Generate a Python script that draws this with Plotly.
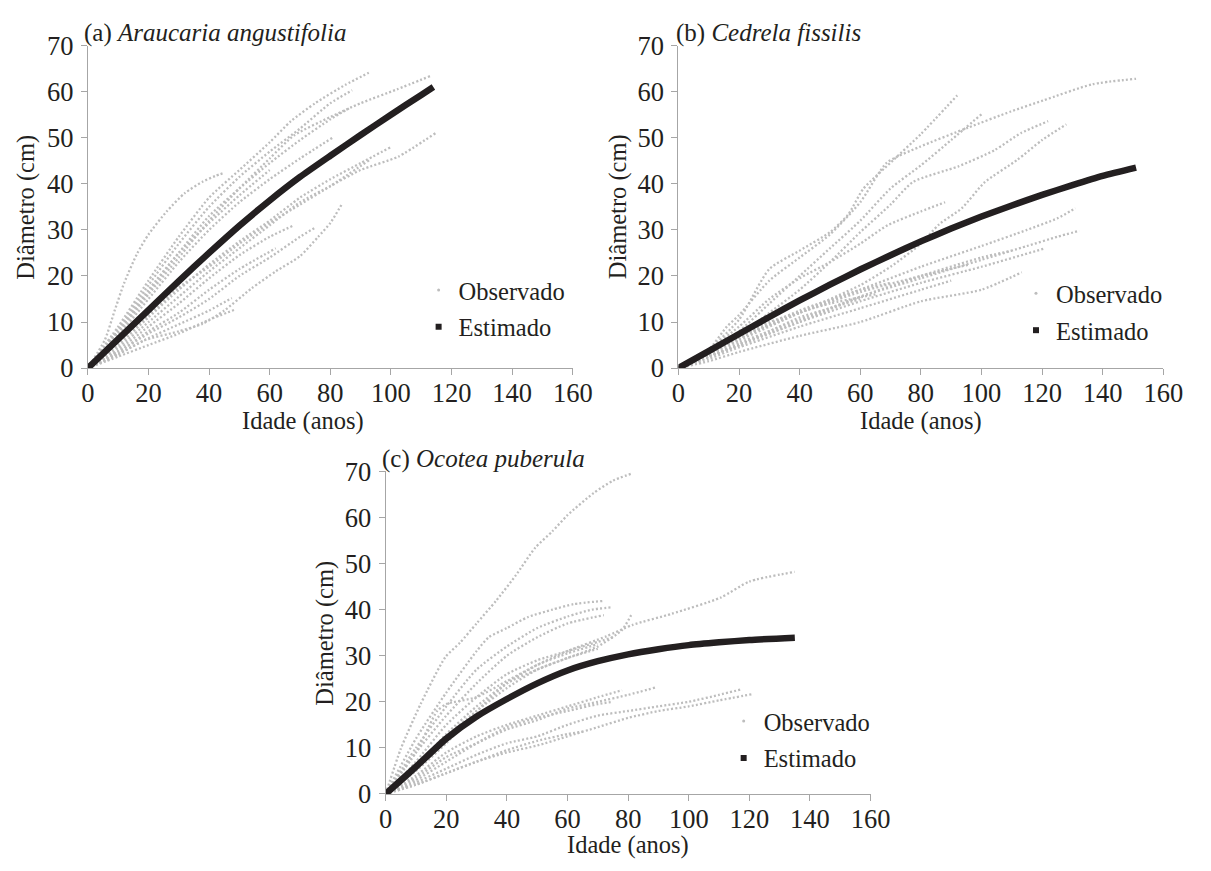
import plotly.graph_objects as go

W, H = 1211, 871
FONT = "Liberation Serif, Tinos, Times New Roman, Times, serif"
TXT = "#231f20"
AXC = "#a6a6a6"
OBS_C = "#bdbdbd"
EST_C = "#231f20"
TICK_FS = 26.5
TEXT_FS = 24.5

AGE_TICKS = [0, 20, 40, 60, 80, 100, 120, 140, 160]
DIAM_TICKS = [0, 10, 20, 30, 40, 50, 60, 70]

TITLES = ["(a) <i>Araucaria angustifolia</i>", "(b) <i>Cedrela fissilis</i>", "(c) <i>Ocotea puberula</i>"]
X_TITLE = "Idade (anos)"
Y_TITLE = "Diâmetro (cm)"
LEG_NAMES = ["Observado", "Estimado"]

# ---------------- (a) Araucaria angustifolia ----------------
A_EST_AGE = [0, 10, 20, 30, 40, 50, 60, 70, 80, 90, 100, 110, 114]
A_EST_DIAM = [0, 6.3, 12.6, 18.9, 25.0, 30.9, 36.4, 41.5, 46.1, 50.6, 55.0, 59.3, 61.0]

A_OBS_AGE = [
    [0, 5.6, 8.8, 12, 16.3, 20, 26, 32, 38, 42, 45],
    [0, 10, 20, 30, 40, 50, 60, 67, 75, 85, 92.7],
    [0, 10, 20, 30, 40, 50, 60, 70, 80, 87.2],
    [0, 10, 20, 30, 40, 50, 60, 70, 80, 87],
    [0, 10, 20, 30, 40, 50, 60, 70, 80.7],
    [0, 10, 20, 30, 40, 50, 60, 68, 80, 90, 102, 113],
    [0, 10, 20, 30, 40, 50, 60, 70, 80, 90, 102.4, 114.7],
    [0, 10, 20, 30, 40, 50, 60, 70, 80, 90, 100],
    [0, 10, 20, 30, 40, 50, 60, 70, 80, 93],
    [0, 10, 18.5, 30, 37.8, 45, 54, 62, 70, 76, 80, 84],
    [0, 10, 20, 30, 40, 48.6],
    [0, 10, 20, 30, 40, 47.5],
    [0, 10, 20, 30, 40, 50, 62],
    [0, 10, 20, 30, 40, 50, 60, 68],
    [0, 10, 20, 30, 40, 50, 60, 70, 75],
    [0, 10, 20, 30, 40, 50, 60],
]
A_OBS_DIAM = [
    [0, 6.1, 12.4, 18.5, 24.9, 29, 34, 38, 40.5, 41.7, 42.4],
    [0, 9, 19, 28.5, 37, 43, 49, 53.6, 57.5, 61.5, 64.1],
    [0, 8.5, 18, 27, 35, 41.5, 47, 52, 57.5, 60.3],
    [0, 8, 16.5, 25, 33, 39, 44.5, 49.5, 54, 56.7],
    [0, 7, 15, 23, 30, 36, 41, 45.5, 50],
    [0, 7.5, 16, 24, 32, 39, 45.5, 50.5, 54.5, 57.5, 60.5, 63.4],
    [0, 4.5, 10, 15.5, 21, 26, 31, 36, 39.5, 43, 45.9, 51],
    [0, 5, 11, 17, 22.5, 27.5, 32, 37, 41, 44.5, 48],
    [0, 5.5, 11.5, 17.5, 22, 27, 31.5, 35.5, 39.5, 45.2],
    [0, 3, 6, 8, 9.6, 12.5, 17.3, 21, 24.3, 28.5, 31.5, 35.8],
    [0, 2.5, 5, 7.5, 10.5, 12.7],
    [0, 3, 6.5, 9.5, 12.5, 15.2],
    [0, 3.5, 8, 12, 17, 21.5, 26],
    [0, 4, 9, 14, 19.5, 24.5, 28.5, 31],
    [0, 3.5, 7.5, 11, 15, 20, 24, 28.5, 30.5],
    [0, 8, 17, 25, 31.5, 37.5, 43],
]

# ---------------- (b) Cedrela fissilis ----------------
B_EST_AGE = [0, 10, 20, 30, 40, 50, 60, 70, 80, 90, 100, 110, 120, 130, 140, 151]
B_EST_DIAM = [0, 3.7, 7.4, 11.1, 14.7, 18.1, 21.4, 24.5, 27.5, 30.3, 32.9, 35.3, 37.6, 39.7, 41.7, 43.5]

B_OBS_AGE = [
    [0, 10, 16, 20, 30, 40, 50, 60, 68.8, 79.5, 95.6, 109.7, 120.4, 136.5, 151],
    [0, 10, 20, 30, 40, 50, 56, 61, 71, 80, 92],
    [0, 10, 20, 30, 40, 50, 60, 70, 80, 90, 100],
    [0, 10, 20, 30, 40, 50, 60, 70, 77.4, 92.4, 104.3, 113, 122],
    [0, 20, 40, 60, 70, 80, 86, 93.5, 101, 111.8, 120, 128],
    [0, 10, 20, 40, 60, 80, 100, 115, 125, 131],
    [0, 10, 20, 40, 60, 80, 100, 115, 125, 132.3],
    [0, 10, 20, 40, 60, 80, 100, 121],
    [0, 10, 20, 40, 60, 80, 100, 113.3],
    [0, 10, 20, 40, 60, 80, 100, 110],
    [0, 10, 20, 40, 60, 80, 96],
    [0, 10, 20, 40, 60, 80, 90],
    [0, 10, 20, 40, 60, 70],
    [0, 15, 30, 50, 65],
    [0, 10, 20, 30, 40, 50, 60],
    [0, 10, 20, 30, 40, 50, 60, 69, 80, 88],
]
B_OBS_DIAM = [
    [0, 4, 9, 11.5, 19, 24, 29, 36, 44.6, 48, 52.2, 55.7, 58.1, 61.6, 62.8],
    [0, 4, 10.5, 21.5, 25.5, 29.5, 33.3, 38.9, 45.2, 50.8, 59.2],
    [0, 3.5, 8, 14, 20, 26, 32, 39, 44, 49.5, 55.1],
    [0, 3, 7, 12, 17, 23, 29.5, 35.5, 40.4, 43.8, 47.3, 51, 53.6],
    [0, 6, 12, 18, 22, 27, 31.2, 34.7, 40.3, 45.2, 49.5, 52.9],
    [0, 3, 6.5, 12, 17, 22, 26.5, 30, 32.5, 34.7],
    [0, 2.5, 5.5, 10.5, 15.5, 19.5, 23.5, 26.5, 28.5, 29.8],
    [0, 2.5, 5, 10, 14.5, 18.5, 22, 26],
    [0, 1.5, 3.5, 7, 10, 14.5, 17, 20.8],
    [0, 2.5, 5, 10, 15.5, 20, 24, 25.5],
    [0, 3, 6.5, 12, 16.5, 20, 22.5],
    [0, 2, 4.5, 9, 13, 17, 19],
    [0, 3, 6.5, 12.5, 17, 18.5],
    [0, 5, 10, 14, 16],
    [0, 2.5, 5, 8, 11, 13, 15],
    [0, 4, 9, 15, 19.5, 23, 27, 31, 34, 36],
]

# ---------------- (c) Ocotea puberula ----------------
C_EST_AGE = [0, 10, 20, 30, 40, 50, 60, 70, 80, 90, 100, 110, 120, 135]
C_EST_DIAM = [0, 5.9, 12.0, 16.8, 20.6, 24.0, 26.8, 28.8, 30.3, 31.4, 32.3, 32.9, 33.4, 33.9]

C_OBS_AGE = [
    [0, 5, 11.6, 19.7, 24.5, 30, 36.4, 43, 49.3, 55, 60, 68.6, 75, 81],
    [0, 10, 20, 30, 34, 40, 47, 55, 62, 72],
    [0, 10, 20, 30, 40, 50, 60, 68, 74.5],
    [0, 10, 20, 30, 40, 50, 60, 72],
    [0, 10, 20, 30, 40, 50, 60, 70, 78, 81],
    [0, 10, 20, 30, 40, 50, 60, 72.8, 81.5, 94.4, 110.5, 120, 135],
    [0, 10, 20, 30, 40, 50, 60, 70, 75],
    [0, 10, 20, 30, 40, 50, 60, 70],
    [0, 10, 17, 20, 30, 40, 50, 60, 70],
    [0, 10, 20, 30, 40, 50, 60, 70, 80, 89],
    [0, 10, 20, 30, 40, 50, 60, 70, 80, 90, 100, 110, 117.5],
    [0, 10, 20, 30, 40, 50, 60, 70, 80, 90, 100, 110, 121.3],
    [0, 10, 20, 30, 40, 50, 60, 70, 75],
    [0, 10, 20, 30, 40, 50, 60, 65],
    [0, 10, 20, 30, 40, 50, 60, 70, 78],
]
C_OBS_DIAM = [
    [0, 9.8, 19.6, 29.7, 32.8, 37, 41.9, 47.5, 53.4, 57, 60.5, 65.3, 68, 69.5],
    [0, 12, 22, 31, 34, 36, 38.4, 40, 41.2, 41.9],
    [0, 10, 19, 27, 32, 36, 38.5, 40, 40.5],
    [0, 9, 17, 24, 30, 34, 37, 38.8],
    [0, 6, 12.5, 18, 23, 27, 29.5, 32, 35.6, 38.8],
    [0, 5, 11, 18, 24, 28, 31, 34.2, 36.7, 39.1, 42.6, 46.1, 48.2],
    [0, 7, 15, 21, 26, 29, 31, 33, 34],
    [0, 6, 13, 19, 24, 27, 29.5, 31.5],
    [0, 9, 18, 19.5, 21, 24.5, 28, 30.5, 32.5],
    [0, 3.5, 8, 11, 14, 16, 18.5, 20, 21.5, 23.1],
    [0, 2.5, 5.5, 8.5, 11, 12.5, 15, 17, 18, 19, 20, 21.5, 22.7],
    [0, 2, 4.5, 7, 9, 10.5, 12.5, 14.5, 16.5, 18, 19, 20.3, 21.7],
    [0, 3, 7, 11, 14.5, 16.5, 18, 19.5, 20],
    [0, 2, 4.5, 7, 9.5, 11.5, 13, 13.5],
    [0, 4, 9, 12.5, 15, 17, 19, 21, 22.5],
]

# ---------------- layout geometry (pixels) ----------------
def fx(px):
    return px / W

def fy(py):
    return 1 - py / H

PANELS = [
    dict(x0=82.7, x1=578.7, y0=365.7, y1=31.7, obs=(A_OBS_AGE, A_OBS_DIAM), est=(A_EST_AGE, A_EST_DIAM),
         title_xy=(77, 19), xt_xy=(303, 420), yt_xy=(20, 199), leg_xy=(421, 304)),
    dict(x0=686.7, x1=1182.7, y0=365.7, y1=31.7, obs=(B_OBS_AGE, B_OBS_DIAM), est=(B_EST_AGE, B_EST_DIAM),
         title_xy=(682, 19), xt_xy=(935, 420), yt_xy=(625, 199), leg_xy=(1032, 307.5)),
    dict(x0=387.3, x1=883.3, y0=806.7, y1=472.7, obs=(C_OBS_AGE, C_OBS_DIAM), est=(C_EST_AGE, C_EST_DIAM),
         title_xy=(382, 460), xt_xy=(635, 859.5), yt_xy=(325, 640), leg_xy=(733, 750.5)),
]

fig = go.Figure()
annotations = []
layout = dict(
    width=W, height=H, margin=dict(l=0, r=0, t=0, b=0),
    paper_bgcolor="white", plot_bgcolor="white",
    font=dict(family=FONT, size=TEXT_FS, color=TXT),
)

for i, p in enumerate(PANELS):
    n = "" if i == 0 else str(i + 1)
    xa, ya = "x" + n, "y" + n
    leg = "legend" + n
    for ages, diams in zip(*p["obs"]):
        fig.add_trace(go.Scatter(
            x=ages, y=diams, mode="lines", xaxis=xa, yaxis=ya,
            line=dict(color=OBS_C, width=2.3, dash="2px,2.2px", shape="spline", smoothing=0.6),
            showlegend=False, hoverinfo="skip"))
    fig.add_trace(go.Scatter(
        x=p["est"][0], y=p["est"][1], mode="lines", xaxis=xa, yaxis=ya,
        line=dict(color=EST_C, width=6.5, shape="spline", smoothing=0.6),
        showlegend=False, hoverinfo="skip"))
    # legend entries
    fig.add_trace(go.Scatter(
        x=[None], y=[None], mode="markers", xaxis=xa, yaxis=ya, name=LEG_NAMES[0],
        marker=dict(symbol="circle", size=3, color=OBS_C), legend=leg, legendgroup=f"o{i}"))
    fig.add_trace(go.Scatter(
        x=[None], y=[None], mode="markers", xaxis=xa, yaxis=ya, name=LEG_NAMES[1],
        marker=dict(symbol="square", size=6, color=EST_C), legend=leg, legendgroup=f"e{i}"))

    axis_common = dict(showgrid=False, zeroline=False, showline=True, linecolor=AXC, linewidth=1,
                       ticks="outside", ticklen=6, tickcolor=AXC, tickwidth=1,
                       tickfont=dict(family=FONT, size=TICK_FS, color=TXT))
    layout["xaxis" + n] = dict(axis_common, domain=[fx(p["x0"]), fx(p["x1"])], range=[0, 160],
                               tickvals=AGE_TICKS, anchor=ya, ticklabelstandoff=-5)
    layout["yaxis" + n] = dict(axis_common, domain=[fy(p["y0"]), fy(p["y1"])], range=[0, 70],
                               tickvals=DIAM_TICKS, anchor=xa, ticklabelstandoff=2)
    layout[leg] = dict(x=fx(p["leg_xy"][0]), y=fy(p["leg_xy"][1]), xanchor="left", yanchor="middle",
                       font=dict(family=FONT, size=TEXT_FS, color=TXT), bgcolor="rgba(0,0,0,0)",
                       tracegroupgap=2, itemsizing="trace")
    annotations.append(dict(text=TITLES[i], x=fx(p["title_xy"][0]), y=fy(p["title_xy"][1]),
                            xref="paper", yref="paper", xanchor="left", yanchor="middle",
                            showarrow=False, font=dict(family=FONT, size=25, color=TXT)))
    annotations.append(dict(text=X_TITLE, x=fx(p["xt_xy"][0]), y=fy(p["xt_xy"][1]),
                            xref="paper", yref="paper", xanchor="center", yanchor="middle",
                            showarrow=False, font=dict(family=FONT, size=TEXT_FS, color=TXT)))
    annotations.append(dict(text=Y_TITLE, x=fx(p["yt_xy"][0]), y=fy(p["yt_xy"][1]), textangle=-90,
                            xref="paper", yref="paper", xanchor="center", yanchor="middle",
                            showarrow=False, font=dict(family=FONT, size=TEXT_FS, color=TXT)))

layout["annotations"] = annotations
fig.update_layout(**layout)
fig.write_html("out.html")
